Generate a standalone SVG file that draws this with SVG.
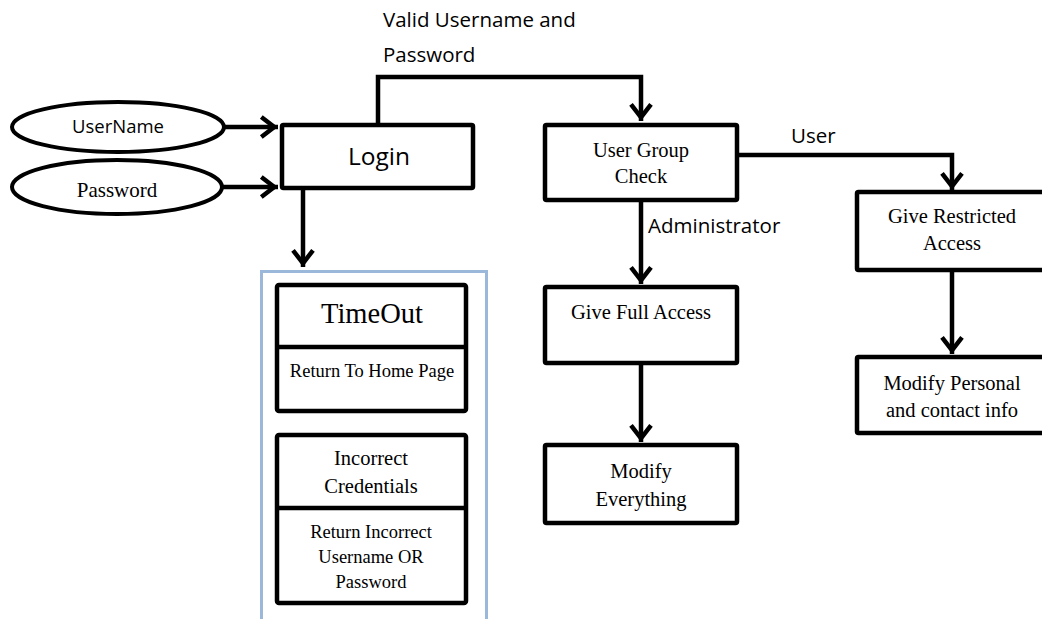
<svg xmlns="http://www.w3.org/2000/svg" width="1042" height="619" viewBox="0 0 1042 619">
  <defs>
    <marker id="open-arrow" markerUnits="userSpaceOnUse" markerWidth="40" markerHeight="40" refX="3.7" refY="0" viewBox="-20 -20 40 40" orient="auto">
      <path d="M -13 -10 L 0 0 L -13 10" fill="none" stroke="#000" stroke-width="4.5" stroke-linejoin="miter"/>
    </marker>
    <style>
      .box { fill: #fff; stroke: #000; stroke-width: 4.5; }
      .oval { fill: #fff; stroke: #000; stroke-width: 4; }
      .group { fill: none; stroke: #9BB7DA; stroke-width: 3; }
      .conn { fill: none; stroke: #000; stroke-width: 4.5; marker-end: url(#open-arrow); }
      .sans { font-family: "Open Sans", "Liberation Sans", sans-serif; fill: #000; }
      .serif { font-family: "Liberation Serif", "Times New Roman", serif; fill: #000; }
      .mid { text-anchor: middle; }
    </style>
  </defs>

  <rect width="1042" height="619" fill="#fff"/>

  <!-- connectors -->
  <g id="connectors">
    <line class="conn" x1="224" y1="127" x2="278" y2="127"/>
    <line class="conn" x1="222" y1="187" x2="278" y2="187"/>
    <line class="conn" x1="303" y1="188" x2="303" y2="267"/>
    <path class="conn" d="M 378 125 V 77 H 641 V 121"/>
    <path class="conn" d="M 739 155 H 952 V 190"/>
    <path class="conn" d="M 641 202 V 284"/>
    <path class="conn" d="M 641 365 V 442"/>
    <path class="conn" d="M 952 272 V 354"/>
    <text class="sans" x="383" y="27" font-size="20.5">Valid Username and</text>
    <text class="sans" x="383" y="62" font-size="20.5">Password</text>
    <text class="sans" x="791" y="143" font-size="20.5">User</text>
    <text class="sans" x="648" y="233" font-size="20.5">Administrator</text>
  </g>

  <!-- inputs -->
  <g id="username">
    <ellipse class="oval" cx="118" cy="127" rx="106" ry="25"/>
    <text class="sans mid" x="118" y="133" font-size="18.5">UserName</text>
  </g>
  <g id="password">
    <ellipse class="oval" cx="117" cy="187" rx="105" ry="27"/>
    <text class="serif mid" x="117" y="197" font-size="21">Password</text>
  </g>

  <g id="login">
    <rect class="box" x="282" y="125" width="191" height="63" rx="1.5"/>
    <text class="sans mid" x="379" y="165" font-size="24.5">Login</text>
  </g>

  <!-- failure outcomes -->
  <g id="failures">
    <rect class="group" x="261.5" y="271.5" width="225" height="370"/>
  </g>
  <g id="timeout">
    <rect class="box" x="277" y="285" width="189" height="126" rx="2"/>
    <line x1="277" y1="347" x2="466" y2="347" stroke="#000" stroke-width="4.5"/>
    <text class="serif mid" x="372" y="323" font-size="28.5">TimeOut</text>
    <text class="serif mid" x="372" y="377" font-size="18.5">Return To Home Page</text>
  </g>
  <g id="incorrect-credentials">
    <rect class="box" x="277" y="435" width="189" height="168" rx="2"/>
    <line x1="277" y1="508" x2="466" y2="508" stroke="#000" stroke-width="4.5"/>
    <text class="serif mid" x="371" y="465" font-size="20.5">Incorrect</text>
    <text class="serif mid" x="371" y="493" font-size="20.5">Credentials</text>
    <text class="serif mid" x="371" y="538" font-size="18.5">Return Incorrect</text>
    <text class="serif mid" x="371" y="563" font-size="18.5">Username OR</text>
    <text class="serif mid" x="371" y="588" font-size="18.5">Password</text>
  </g>

  <!-- access control -->
  <g id="user-group-check">
    <rect class="box" x="545" y="125" width="192" height="75" rx="1.5"/>
    <text class="serif mid" x="641" y="157" font-size="20.5">User Group</text>
    <text class="serif mid" x="641" y="183" font-size="20.5">Check</text>
  </g>
  <g id="give-full-access">
    <rect class="box" x="545" y="287" width="192" height="76" rx="1.5"/>
    <text class="serif mid" x="641" y="319" font-size="20.5">Give Full Access</text>
  </g>
  <g id="modify-everything">
    <rect class="box" x="545" y="445" width="192" height="78" rx="1.5"/>
    <text class="serif mid" x="641" y="478" font-size="20.5">Modify</text>
    <text class="serif mid" x="641" y="506" font-size="20.5">Everything</text>
  </g>
  <g id="give-restricted-access">
    <rect class="box" x="857" y="192" width="200" height="78" rx="1.5"/>
    <text class="serif mid" x="952" y="223" font-size="20.5">Give Restricted</text>
    <text class="serif mid" x="952" y="250" font-size="20.5">Access</text>
  </g>
  <g id="modify-personal">
    <rect class="box" x="857" y="357" width="200" height="76" rx="1.5"/>
    <text class="serif mid" x="952" y="390" font-size="20.5">Modify Personal</text>
    <text class="serif mid" x="952" y="417" font-size="20.5">and contact info</text>
  </g>
</svg>
